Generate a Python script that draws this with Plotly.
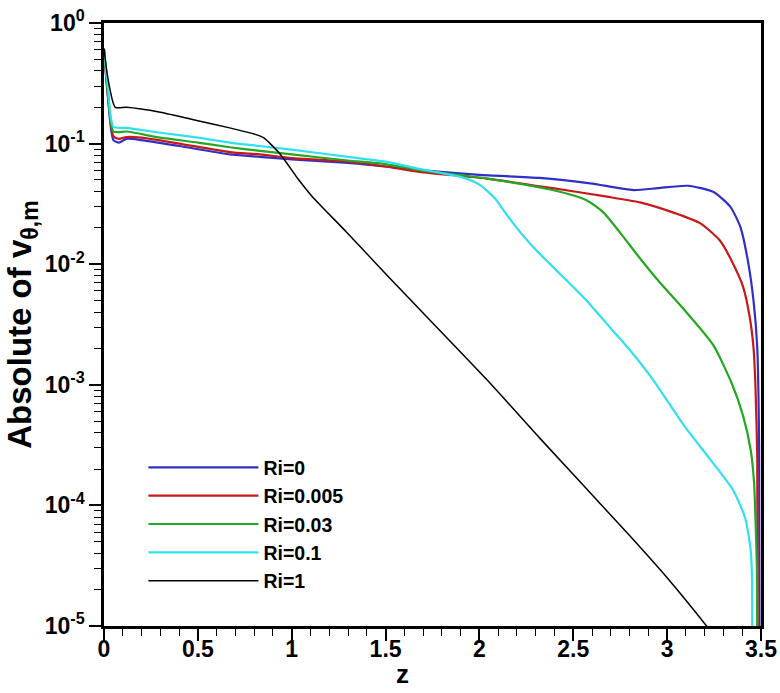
import plotly.graph_objects as go

# ---- data ----
z_ri0 = [0, 0.02, 0.05, 0.08, 0.12, 0.2, 0.4, 0.67, 0.83, 1.0, 1.3, 1.5, 1.68, 2.0, 2.32, 2.59, 2.82,
         2.95, 3.11, 3.245, 3.335, 3.39, 3.43, 3.46, 3.48, 3.49, 3.492]
v_ri0 = [0.603, 0.251, 0.107, 0.102, 0.1096, 0.107, 0.0955, 0.0813, 0.0776, 0.0741, 0.0692, 0.0646,
         0.0603, 0.0550, 0.0519, 0.0468, 0.0412, 0.0427, 0.0447, 0.0398, 0.0302, 0.0204, 0.0107,
         0.00501, 0.00204, 0.000316, 0.0000079]

z_ri0005 = [0, 0.02, 0.05, 0.08, 0.12, 0.2, 0.4, 0.67, 0.83, 1.0, 1.3, 1.5, 1.68, 2.04, 2.39, 2.68,
            2.86, 3.03, 3.175, 3.28, 3.35, 3.405, 3.44, 3.46, 3.47, 3.48, 3.482]
v_ri0005 = [0.603, 0.263, 0.115, 0.1096, 0.1135, 0.112, 0.1, 0.0851, 0.0813, 0.0759, 0.0708, 0.0646,
            0.0582, 0.0513, 0.0427, 0.0363, 0.0324, 0.0269, 0.0219, 0.0158, 0.0102, 0.00646,
            0.00363, 0.00204, 0.00102, 0.000251, 0.0000079]

z_ri003 = [0, 0.02, 0.05, 0.12, 0.3, 0.5, 0.67, 0.83, 1.0, 1.3, 1.5, 1.68, 2.04, 2.39, 2.57, 2.66,
           2.75, 2.855, 2.96, 3.07, 3.245, 3.345, 3.405, 3.445, 3.463, 3.47, 3.478, 3.48]
v_ri003 = [0.603, 0.275, 0.126, 0.126, 0.112, 0.102, 0.0933, 0.0871, 0.0813, 0.0724, 0.0676, 0.0603,
           0.0513, 0.0412, 0.0339, 0.0269, 0.0182, 0.0112, 0.00708, 0.00457, 0.00214, 0.00102,
           0.00055, 0.000288, 0.000155, 0.0000813, 0.0000316, 0.0000079]

z_ri01 = [0, 0.02, 0.05, 0.12, 0.3, 0.5, 0.67, 0.83, 1.0, 1.3, 1.5, 1.68, 1.8, 1.91, 2.0, 2.08,
          2.15, 2.22, 2.30, 2.39, 2.57, 2.71, 2.80, 2.925, 3.095, 3.23, 3.35, 3.415, 3.445, 3.452,
          3.453]
v_ri01 = [0.603, 0.302, 0.138, 0.135, 0.123, 0.112, 0.102, 0.0955, 0.0891, 0.0776, 0.0708, 0.0617,
          0.0569, 0.0525, 0.0457, 0.0355, 0.0251, 0.0182, 0.0132, 0.00955, 0.00501, 0.00282,
          0.00195, 0.0011, 0.000447, 0.00024, 0.000135, 0.0000794, 0.0000427, 0.0000251,
          0.0000079]

z_ri1 = [0, 0.02, 0.06, 0.12, 0.3, 0.5, 0.67, 0.8, 0.85, 0.94, 1.03, 1.11, 1.29, 1.5, 2.04, 2.32,
         2.8, 3.0, 3.21, 3.24]
v_ri1 = [0.617, 0.355, 0.2, 0.2, 0.182, 0.155, 0.135, 0.12, 0.112, 0.0813, 0.0519, 0.0363, 0.0186,
         0.00832, 0.0011, 0.000363, 0.0000562, 0.0000251, 0.00001, 0.0000087]

series_names = ["Ri=0", "Ri=0.005", "Ri=0.03", "Ri=0.1", "Ri=1"]
series_z = [z_ri0, z_ri0005, z_ri003, z_ri01, z_ri1]
series_v = [v_ri0, v_ri0005, v_ri003, v_ri01, v_ri1]
series_colors = ["#3030c8", "#c81818", "#22a822", "#30e0f0", "#000000"]
series_widths = [2.2, 2.2, 2.2, 2.2, 1.5]

x_tick_vals = [0, 0.5, 1, 1.5, 2, 2.5, 3, 3.5]
x_tick_text = ["0", "0.5", "1", "1.5", "2", "2.5", "3", "3.5"]
y_tick_vals = [1, 0.1, 0.01, 0.001, 0.0001, 0.00001]
y_tick_text = ["10<sup>0</sup>", "10<sup>-1</sup>", "10<sup>-2</sup>", "10<sup>-3</sup>",
               "10<sup>-4</sup>", "10<sup>-5</sup>"]
y_minor_vals = [m * 10.0 ** e for e in range(-5, 0) for m in range(2, 10)]

FONT = "Liberation Sans, Arial, sans-serif"

fig = go.Figure()
for name, zz, vv, col, w in zip(series_names, series_z, series_v, series_colors, series_widths):
    fig.add_trace(go.Scatter(x=zz, y=vv, mode="lines", name=name,
                             line=dict(color=col, width=w, shape="spline", smoothing=0.6)))

fig.update_layout(
    width=780, height=693,
    margin=dict(l=104, r=19, t=23, b=67),
    paper_bgcolor="white", plot_bgcolor="white",
    font=dict(family=FONT, color="black", size=22, weight="bold"),
    showlegend=True,
    legend=dict(x=0.06, y=0.295, xanchor="left", yanchor="top",
                bgcolor="rgba(0,0,0,0)", borderwidth=0,
                font=dict(family=FONT, size=19.5, color="black", weight="bold"),
                itemwidth=110, tracegroupgap=0),
    annotations=[dict(text="z", xref="paper", yref="paper", x=0.455, y=-0.08,
                      xanchor="center", yanchor="middle", showarrow=False,
                      font=dict(family=FONT, size=26, color="black", weight="bold"))],
)

fig.update_xaxes(
    range=[0, 3.5], showgrid=False, zeroline=False, automargin=False,
    showline=True, linecolor="black", linewidth=2.5, mirror=True,
    ticks="outside", ticklen=12, tickwidth=2, tickcolor="black",
    tickmode="array", tickvals=x_tick_vals, ticktext=x_tick_text,
    tickfont=dict(family=FONT, size=23, weight="bold"), ticklabelstandoff=-11,
    minor=dict(ticks="outside", ticklen=7, tickwidth=1.3, tickcolor="black", dtick=0.1, showgrid=False),
)
fig.update_yaxes(
    type="log", range=[-5, 0], showgrid=False, zeroline=False, automargin=False,
    showline=True, linecolor="black", linewidth=2.5, mirror=True,
    ticks="outside", ticklen=12, tickwidth=2, tickcolor="black",
    tickmode="array", tickvals=y_tick_vals, ticktext=y_tick_text,
    tickfont=dict(family=FONT, size=23, weight="bold"),
    minor=dict(ticks="outside", ticklen=7, tickwidth=1.3, tickcolor="black",
               tickmode="array", tickvals=y_minor_vals, showgrid=False),
    title=dict(text="Absolute of v<sub>θ,m</sub>", font=dict(family=FONT, size=33, weight="bold"),
               standoff=4),
)

fig.write_html("out.html")
